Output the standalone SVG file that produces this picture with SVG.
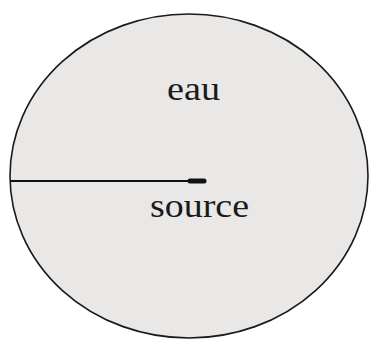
<svg xmlns="http://www.w3.org/2000/svg" width="374" height="342" viewBox="0 0 374 342">
<style>
.lbl{font-family:"Liberation Serif","Times New Roman",serif;font-size:33px;fill:#1a1a1a}
</style>
<rect width="374" height="342" fill="#fff"/>
<g id="eau">
<ellipse cx="189" cy="176" rx="179" ry="162" fill="#e9e8e6" stroke="#1a1a1a" stroke-width="1.6"/>
<text class="lbl" x="167" y="100" textLength="53" lengthAdjust="spacingAndGlyphs">eau</text>
</g>
<g id="connectors">
<line x1="10" y1="181" x2="192" y2="181" stroke="#111" stroke-width="2"/>
<line x1="190" y1="181" x2="204" y2="181" stroke="#111" stroke-width="5" stroke-linecap="round"/>
</g>
<g id="source">
<text class="lbl" x="150" y="217" textLength="99" lengthAdjust="spacingAndGlyphs">source</text>
</g>
</svg>
